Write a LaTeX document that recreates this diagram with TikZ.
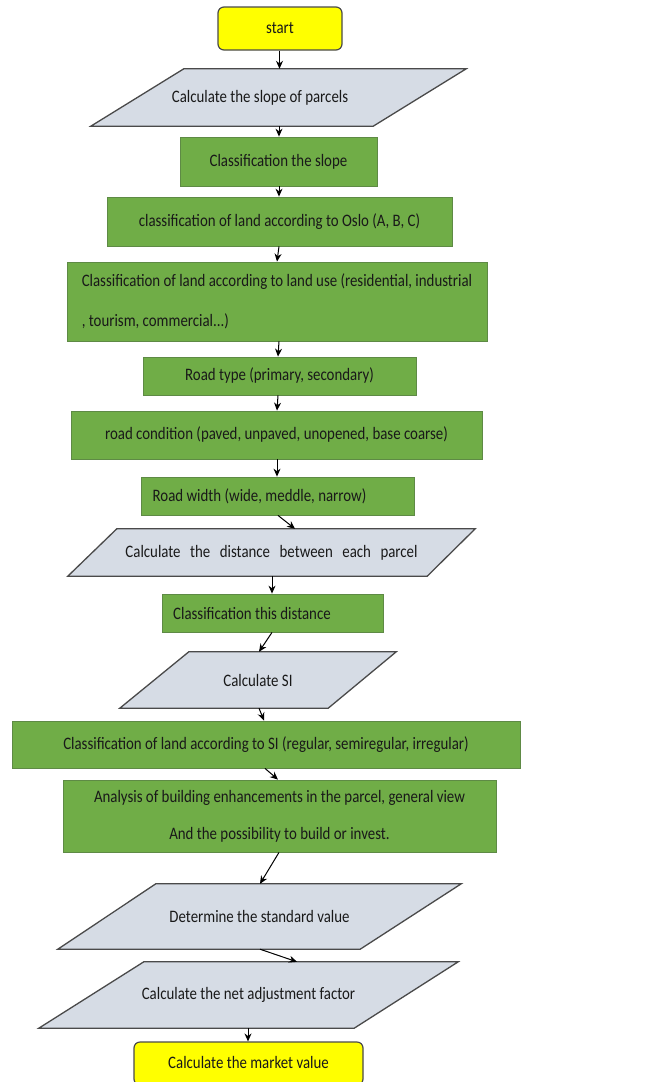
\documentclass[tikz,border=0pt]{standalone}
\usepackage{fontspec}
\setmainfont{Carlito}[FakeStretch=0.85]
\usetikzlibrary{arrows.meta,backgrounds}
\definecolor{gfill}{HTML}{70AD47}
\definecolor{gline}{HTML}{5E8A45}
\definecolor{pfill}{HTML}{D6DCE5}
\definecolor{pline}{HTML}{4A4A4A}
\definecolor{yfill}{HTML}{FFFF00}
\tikzset{
  every node/.style={font=\fontsize{17.5}{20}\selectfont, text=black!90},
  gbox/.style={rectangle, fill=gfill, draw=gline, line width=0.8pt, inner sep=0pt},
  pnode/.style={rectangle, draw=none, inner sep=0pt},
  pshape/.style={fill=pfill, draw=pline, line width=1.3pt, line join=miter},
  term/.style={rectangle, rounded corners=6pt, fill=yfill, draw=pline, line width=1.2pt, inner sep=0pt},
  arr/.style={-{Stealth[length=8pt,width=7pt]}, line width=1pt, black}
}
\begin{document}
\begin{tikzpicture}[x=1pt,y=-1pt]
\useasboundingbox (0,0) rectangle (668,1082);
% nodes
\node[term, minimum width=124pt, minimum height=43pt] (start) at (280,28.5) {start};
\node[pnode, minimum width=375pt, minimum height=57pt] (p1) at (278.5,97.5) {Calculate the slope of parcels\hspace*{37pt}};
\node[gbox, minimum width=197pt, minimum height=49pt] (b1) at (278.5,161.5) {Classification the slope};
\node[gbox, minimum width=345pt, minimum height=49pt] (b2) at (279.5,221.5) {classification of land according to Oslo (A, B, C)};
\node[gbox, minimum width=420pt, minimum height=79pt, align=left] (b3) at (277,301.5) {Classification of land according to land use (residential, industrial\\[20pt], tourism, commercial...)};
\node[gbox, minimum width=273pt, minimum height=38pt] (b4) at (279.5,376) {Road type (primary, secondary)};
\node[gbox, minimum width=411pt, minimum height=48pt] (b5) at (276.5,435) {road condition (paved, unpaved, unopened, base coarse)};
\node[gbox, minimum width=273pt, minimum height=38pt] (b6) at (277.5,496) {Road width (wide, meddle, narrow)\hspace*{36pt}};
\node[pnode, minimum width=407pt, minimum height=47pt] (p2) at (271.5,552.5) {{\spaceskip=9.5pt Calculate the distance between each parcel}};
\node[gbox, minimum width=221pt, minimum height=38pt] (b7) at (272.5,613) {Classification this distance\hspace*{41pt}};
\node[pnode, minimum width=276pt, minimum height=56pt] (p3) at (258,680) {Calculate SI};
\node[gbox, minimum width=508pt, minimum height=47pt] (b8) at (266,744.5) {Classification of land according to SI (regular, semiregular, irregular)};
\node[gbox, minimum width=433pt, minimum height=72pt, align=center] (b9) at (279.5,816) {Analysis of building enhancements in the parcel, general view\\[17pt]And the possibility to build or invest.};
\node[pnode, minimum width=403pt, minimum height=65pt] (p4) at (259.5,916.5) {Determine the standard value};
\node[pnode, minimum width=419pt, minimum height=66pt] (p5) at (248.5,995) {Calculate the net adjustment factor};
\node[term, minimum width=229pt, minimum height=43pt] (end) at (248.5,1063.5) {\raisebox{2pt}{Calculate the market value}};
% parallelograms
\begin{scope}[on background layer]
\draw[pshape] ([xshift=93pt]p1.north west) -- (p1.north east) -- ([xshift=-93pt]p1.south east) -- (p1.south west) -- cycle;
\draw[pshape] ([xshift=49pt]p2.north west) -- (p2.north east) -- ([xshift=-48pt]p2.south east) -- (p2.south west) -- cycle;
\draw[pshape] ([xshift=69pt]p3.north west) -- (p3.north east) -- ([xshift=-68pt]p3.south east) -- (p3.south west) -- cycle;
\draw[pshape] ([xshift=98pt]p4.north west) -- (p4.north east) -- ([xshift=-101pt]p4.south east) -- (p4.south west) -- cycle;
\draw[pshape] ([xshift=105pt]p5.north west) -- (p5.north east) -- ([xshift=-104pt]p5.south east) -- (p5.south west) -- cycle;
\end{scope}
% connectors
\draw[arr] ([xshift=-0.5pt]start.south) -- ([xshift=1pt]p1.north);
\draw[arr] ([xshift=0.5pt]p1.south) -- ([xshift=0.5pt]b1.north);
\draw[arr] ([xshift=0.5pt]b1.south) -- ([xshift=-0.5pt]b2.north);
\draw[arr] ([xshift=-0.5pt]b2.south) -- ([xshift=0pt]b3.north);
\draw[arr] ([xshift=2pt]b3.south) -- ([xshift=-1.5pt]b4.north);
\draw[arr] ([xshift=-1.5pt]b4.south) -- ([xshift=0.5pt]b5.north);
\draw[arr] ([xshift=0.5pt]b5.south) -- ([xshift=-0.5pt]b6.north);
\draw[arr] ([xshift=0.5pt]b6.south) -- ([xshift=23.5pt]p2.north);
\draw[arr] ([xshift=0.5pt]p2.south) -- ([xshift=-0.5pt]b7.north);
\draw[arr] ([xshift=-0.5pt]b7.south) -- ([xshift=1pt]p3.north);
\draw[arr] ([xshift=1pt]p3.south) -- ([xshift=-2pt]b8.north);
\draw[arr] ([xshift=-1pt]b8.south) -- ([xshift=-1.5pt]b9.north);
\draw[arr] ([xshift=-0.5pt]b9.south) -- ([xshift=0.5pt]p4.north);
\draw[arr] ([xshift=0.5pt]p4.south) -- ([xshift=48.5pt]p5.north);
\draw[arr] ([xshift=-0.5pt]p5.south) -- ([xshift=-0.5pt]end.north);
\end{tikzpicture}
\end{document}
